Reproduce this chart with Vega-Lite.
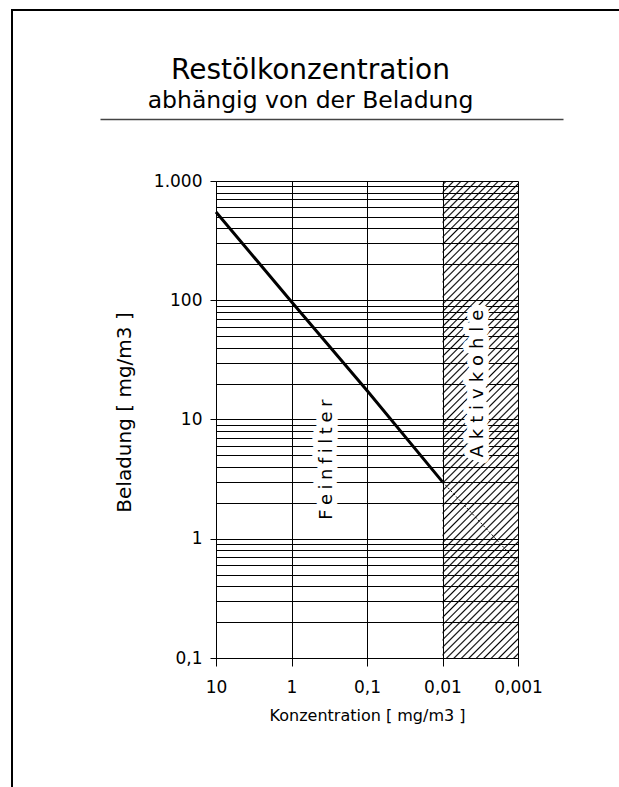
{
  "$schema": "https://vega.github.io/schema/vega-lite/v6.json",
  "usermeta": {"embedOptions": {"actions": false}},
  "autosize": "none",
  "padding": {"left": 12, "top": 10, "right": -10, "bottom": -10},
  "width": 617,
  "height": 787,
  "background": "white",
  "title": {
    "text": "Restölkonzentration",
    "subtitle": "abhängig von der Beladung",
    "anchor": "middle",
    "frame": "group",
    "offset": -102,
    "dx": -10,
    "font": "DejaVu Sans",
    "fontSize": 28,
    "fontWeight": "normal",
    "color": "black",
    "subtitleFont": "DejaVu Sans",
    "subtitleFontSize": 23.5,
    "subtitleColor": "black",
    "subtitlePadding": 4
  },
  "datasets": {
    "kurve": [
      {"konz": 10, "beladung": 550},
      {"konz": 1, "beladung": 97},
      {"konz": 0.1, "beladung": 17.5},
      {"konz": 0.01, "beladung": 3}
    ],
    "kurve_aktivkohle": [
      {"konz": 0.01, "beladung": 3},
      {"konz": 0.001, "beladung": 0.63}
    ],
    "bereiche": [
      {"bereich": "Aktivkohle", "konz": 0.01, "konz_bis": 0.001, "beladung": 0.1, "beladung_bis": 1000}
    ],
    "beschriftung": [
      {"bereich": "Feinfilter", "konz": 0.34, "beladung": 4.6},
      {"bereich": "Aktivkohle", "konz": 0.0034, "beladung": 20}
    ],
    "trennlinie": []
  },
  "layer": [
    {
      "encoding": {
        "x": {
          "field": "konz",
          "type": "quantitative",
          "scale": {"type": "log", "domain": [0.001, 10], "range": [506, 204]},
          "axis": null
        },
        "y": {
          "field": "beladung",
          "type": "quantitative",
          "title": "Beladung [ mg/m3 ]",
          "scale": {"type": "log", "domain": [0.1, 1000], "range": [648, 171]},
          "axis": {
            "values": [0.1, 0.2, 0.3, 0.4, 0.5, 0.6, 0.7, 0.8, 0.9, 1, 2, 3, 4, 5, 6, 7, 8, 9, 10, 20, 30, 40, 50, 60, 70, 80, 90, 100, 200, 300, 400, 500, 600, 700, 800, 900, 1000],
            "offset": -204,
            "grid": true,
            "tickSize": 6,
            "tickOpacity": {"condition": {"test": "datum.value == 0.1 || datum.value == 1 || datum.value == 10 || datum.value == 100 || datum.value == 1000", "value": 1}, "value": 0},
            "labelOverlap": false,
            "labelExpr": "datum.value == 1000 ? '1.000' : datum.value == 100 ? '100' : datum.value == 10 ? '10' : datum.value == 1 ? '1' : datum.value == 0.1 ? '0,1' : ''",
            "labelFontSize": 17,
            "labelPadding": 8,
            "titleFontSize": 20,
            "titlePadding": 19,
            "titleY": 402
          }
        }
      },
      "layer": [
        {
          "data": {"name": "bereiche"},
          "mark": {
            "type": "rect",
            "fill": {
              "gradient": "linear",
              "x1": 0, "y1": 0, "x2": 0.17885, "y2": 1.12997,
              "stops": [
                {"offset": 0.0042, "color": "rgba(0,0,0,0)"}, {"offset": 0.007, "color": "#000"}, {"offset": 0.0098, "color": "rgba(0,0,0,0)"},
                {"offset": 0.0177, "color": "rgba(0,0,0,0)"}, {"offset": 0.0205, "color": "#000"}, {"offset": 0.0233, "color": "rgba(0,0,0,0)"},
                {"offset": 0.0312, "color": "rgba(0,0,0,0)"}, {"offset": 0.034, "color": "#000"}, {"offset": 0.0368, "color": "rgba(0,0,0,0)"},
                {"offset": 0.0447, "color": "rgba(0,0,0,0)"}, {"offset": 0.0475, "color": "#000"}, {"offset": 0.0503, "color": "rgba(0,0,0,0)"},
                {"offset": 0.0582, "color": "rgba(0,0,0,0)"}, {"offset": 0.061, "color": "#000"}, {"offset": 0.0638, "color": "rgba(0,0,0,0)"},
                {"offset": 0.0717, "color": "rgba(0,0,0,0)"}, {"offset": 0.0745, "color": "#000"}, {"offset": 0.0773, "color": "rgba(0,0,0,0)"},
                {"offset": 0.0852, "color": "rgba(0,0,0,0)"}, {"offset": 0.088, "color": "#000"}, {"offset": 0.0908, "color": "rgba(0,0,0,0)"},
                {"offset": 0.0987, "color": "rgba(0,0,0,0)"}, {"offset": 0.1015, "color": "#000"}, {"offset": 0.1043, "color": "rgba(0,0,0,0)"},
                {"offset": 0.1122, "color": "rgba(0,0,0,0)"}, {"offset": 0.115, "color": "#000"}, {"offset": 0.1178, "color": "rgba(0,0,0,0)"},
                {"offset": 0.1257, "color": "rgba(0,0,0,0)"}, {"offset": 0.1285, "color": "#000"}, {"offset": 0.1313, "color": "rgba(0,0,0,0)"},
                {"offset": 0.1392, "color": "rgba(0,0,0,0)"}, {"offset": 0.142, "color": "#000"}, {"offset": 0.1448, "color": "rgba(0,0,0,0)"},
                {"offset": 0.1527, "color": "rgba(0,0,0,0)"}, {"offset": 0.1555, "color": "#000"}, {"offset": 0.1583, "color": "rgba(0,0,0,0)"},
                {"offset": 0.1662, "color": "rgba(0,0,0,0)"}, {"offset": 0.169, "color": "#000"}, {"offset": 0.1718, "color": "rgba(0,0,0,0)"},
                {"offset": 0.1797, "color": "rgba(0,0,0,0)"}, {"offset": 0.1825, "color": "#000"}, {"offset": 0.1853, "color": "rgba(0,0,0,0)"},
                {"offset": 0.1932, "color": "rgba(0,0,0,0)"}, {"offset": 0.196, "color": "#000"}, {"offset": 0.1988, "color": "rgba(0,0,0,0)"},
                {"offset": 0.2067, "color": "rgba(0,0,0,0)"}, {"offset": 0.2095, "color": "#000"}, {"offset": 0.2123, "color": "rgba(0,0,0,0)"},
                {"offset": 0.2202, "color": "rgba(0,0,0,0)"}, {"offset": 0.223, "color": "#000"}, {"offset": 0.2258, "color": "rgba(0,0,0,0)"},
                {"offset": 0.2337, "color": "rgba(0,0,0,0)"}, {"offset": 0.2365, "color": "#000"}, {"offset": 0.2393, "color": "rgba(0,0,0,0)"},
                {"offset": 0.2472, "color": "rgba(0,0,0,0)"}, {"offset": 0.25, "color": "#000"}, {"offset": 0.2528, "color": "rgba(0,0,0,0)"},
                {"offset": 0.2607, "color": "rgba(0,0,0,0)"}, {"offset": 0.2635, "color": "#000"}, {"offset": 0.2663, "color": "rgba(0,0,0,0)"},
                {"offset": 0.2742, "color": "rgba(0,0,0,0)"}, {"offset": 0.277, "color": "#000"}, {"offset": 0.2798, "color": "rgba(0,0,0,0)"},
                {"offset": 0.2877, "color": "rgba(0,0,0,0)"}, {"offset": 0.2905, "color": "#000"}, {"offset": 0.2933, "color": "rgba(0,0,0,0)"},
                {"offset": 0.3012, "color": "rgba(0,0,0,0)"}, {"offset": 0.304, "color": "#000"}, {"offset": 0.3068, "color": "rgba(0,0,0,0)"},
                {"offset": 0.3147, "color": "rgba(0,0,0,0)"}, {"offset": 0.3175, "color": "#000"}, {"offset": 0.3203, "color": "rgba(0,0,0,0)"},
                {"offset": 0.3282, "color": "rgba(0,0,0,0)"}, {"offset": 0.331, "color": "#000"}, {"offset": 0.3338, "color": "rgba(0,0,0,0)"},
                {"offset": 0.3417, "color": "rgba(0,0,0,0)"}, {"offset": 0.3445, "color": "#000"}, {"offset": 0.3473, "color": "rgba(0,0,0,0)"},
                {"offset": 0.3552, "color": "rgba(0,0,0,0)"}, {"offset": 0.358, "color": "#000"}, {"offset": 0.3608, "color": "rgba(0,0,0,0)"},
                {"offset": 0.3687, "color": "rgba(0,0,0,0)"}, {"offset": 0.3715, "color": "#000"}, {"offset": 0.3743, "color": "rgba(0,0,0,0)"},
                {"offset": 0.3822, "color": "rgba(0,0,0,0)"}, {"offset": 0.385, "color": "#000"}, {"offset": 0.3878, "color": "rgba(0,0,0,0)"},
                {"offset": 0.3957, "color": "rgba(0,0,0,0)"}, {"offset": 0.3985, "color": "#000"}, {"offset": 0.4013, "color": "rgba(0,0,0,0)"},
                {"offset": 0.4092, "color": "rgba(0,0,0,0)"}, {"offset": 0.412, "color": "#000"}, {"offset": 0.4148, "color": "rgba(0,0,0,0)"},
                {"offset": 0.4227, "color": "rgba(0,0,0,0)"}, {"offset": 0.4255, "color": "#000"}, {"offset": 0.4283, "color": "rgba(0,0,0,0)"},
                {"offset": 0.4362, "color": "rgba(0,0,0,0)"}, {"offset": 0.439, "color": "#000"}, {"offset": 0.4418, "color": "rgba(0,0,0,0)"},
                {"offset": 0.4497, "color": "rgba(0,0,0,0)"}, {"offset": 0.4525, "color": "#000"}, {"offset": 0.4553, "color": "rgba(0,0,0,0)"},
                {"offset": 0.4632, "color": "rgba(0,0,0,0)"}, {"offset": 0.466, "color": "#000"}, {"offset": 0.4688, "color": "rgba(0,0,0,0)"},
                {"offset": 0.4767, "color": "rgba(0,0,0,0)"}, {"offset": 0.4795, "color": "#000"}, {"offset": 0.4823, "color": "rgba(0,0,0,0)"},
                {"offset": 0.4902, "color": "rgba(0,0,0,0)"}, {"offset": 0.493, "color": "#000"}, {"offset": 0.4958, "color": "rgba(0,0,0,0)"},
                {"offset": 0.5037, "color": "rgba(0,0,0,0)"}, {"offset": 0.5065, "color": "#000"}, {"offset": 0.5093, "color": "rgba(0,0,0,0)"},
                {"offset": 0.5172, "color": "rgba(0,0,0,0)"}, {"offset": 0.52, "color": "#000"}, {"offset": 0.5228, "color": "rgba(0,0,0,0)"},
                {"offset": 0.5307, "color": "rgba(0,0,0,0)"}, {"offset": 0.5335, "color": "#000"}, {"offset": 0.5363, "color": "rgba(0,0,0,0)"},
                {"offset": 0.5442, "color": "rgba(0,0,0,0)"}, {"offset": 0.547, "color": "#000"}, {"offset": 0.5498, "color": "rgba(0,0,0,0)"},
                {"offset": 0.5577, "color": "rgba(0,0,0,0)"}, {"offset": 0.5605, "color": "#000"}, {"offset": 0.5633, "color": "rgba(0,0,0,0)"},
                {"offset": 0.5712, "color": "rgba(0,0,0,0)"}, {"offset": 0.574, "color": "#000"}, {"offset": 0.5768, "color": "rgba(0,0,0,0)"},
                {"offset": 0.5847, "color": "rgba(0,0,0,0)"}, {"offset": 0.5875, "color": "#000"}, {"offset": 0.5903, "color": "rgba(0,0,0,0)"},
                {"offset": 0.5982, "color": "rgba(0,0,0,0)"}, {"offset": 0.601, "color": "#000"}, {"offset": 0.6038, "color": "rgba(0,0,0,0)"},
                {"offset": 0.6117, "color": "rgba(0,0,0,0)"}, {"offset": 0.6145, "color": "#000"}, {"offset": 0.6173, "color": "rgba(0,0,0,0)"},
                {"offset": 0.6252, "color": "rgba(0,0,0,0)"}, {"offset": 0.628, "color": "#000"}, {"offset": 0.6308, "color": "rgba(0,0,0,0)"},
                {"offset": 0.6387, "color": "rgba(0,0,0,0)"}, {"offset": 0.6415, "color": "#000"}, {"offset": 0.6443, "color": "rgba(0,0,0,0)"},
                {"offset": 0.6522, "color": "rgba(0,0,0,0)"}, {"offset": 0.655, "color": "#000"}, {"offset": 0.6578, "color": "rgba(0,0,0,0)"},
                {"offset": 0.6657, "color": "rgba(0,0,0,0)"}, {"offset": 0.6685, "color": "#000"}, {"offset": 0.6713, "color": "rgba(0,0,0,0)"},
                {"offset": 0.6792, "color": "rgba(0,0,0,0)"}, {"offset": 0.682, "color": "#000"}, {"offset": 0.6848, "color": "rgba(0,0,0,0)"},
                {"offset": 0.6927, "color": "rgba(0,0,0,0)"}, {"offset": 0.6955, "color": "#000"}, {"offset": 0.6983, "color": "rgba(0,0,0,0)"},
                {"offset": 0.7062, "color": "rgba(0,0,0,0)"}, {"offset": 0.709, "color": "#000"}, {"offset": 0.7118, "color": "rgba(0,0,0,0)"},
                {"offset": 0.7197, "color": "rgba(0,0,0,0)"}, {"offset": 0.7225, "color": "#000"}, {"offset": 0.7253, "color": "rgba(0,0,0,0)"},
                {"offset": 0.7332, "color": "rgba(0,0,0,0)"}, {"offset": 0.736, "color": "#000"}, {"offset": 0.7388, "color": "rgba(0,0,0,0)"},
                {"offset": 0.7467, "color": "rgba(0,0,0,0)"}, {"offset": 0.7495, "color": "#000"}, {"offset": 0.7523, "color": "rgba(0,0,0,0)"},
                {"offset": 0.7602, "color": "rgba(0,0,0,0)"}, {"offset": 0.763, "color": "#000"}, {"offset": 0.7658, "color": "rgba(0,0,0,0)"},
                {"offset": 0.7737, "color": "rgba(0,0,0,0)"}, {"offset": 0.7765, "color": "#000"}, {"offset": 0.7793, "color": "rgba(0,0,0,0)"},
                {"offset": 0.7872, "color": "rgba(0,0,0,0)"}, {"offset": 0.79, "color": "#000"}, {"offset": 0.7928, "color": "rgba(0,0,0,0)"},
                {"offset": 0.8007, "color": "rgba(0,0,0,0)"}, {"offset": 0.8035, "color": "#000"}, {"offset": 0.8063, "color": "rgba(0,0,0,0)"},
                {"offset": 0.8142, "color": "rgba(0,0,0,0)"}, {"offset": 0.817, "color": "#000"}, {"offset": 0.8198, "color": "rgba(0,0,0,0)"},
                {"offset": 0.8277, "color": "rgba(0,0,0,0)"}, {"offset": 0.8305, "color": "#000"}, {"offset": 0.8333, "color": "rgba(0,0,0,0)"},
                {"offset": 0.8412, "color": "rgba(0,0,0,0)"}, {"offset": 0.844, "color": "#000"}, {"offset": 0.8468, "color": "rgba(0,0,0,0)"},
                {"offset": 0.8547, "color": "rgba(0,0,0,0)"}, {"offset": 0.8575, "color": "#000"}, {"offset": 0.8603, "color": "rgba(0,0,0,0)"},
                {"offset": 0.8682, "color": "rgba(0,0,0,0)"}, {"offset": 0.871, "color": "#000"}, {"offset": 0.8738, "color": "rgba(0,0,0,0)"},
                {"offset": 0.8817, "color": "rgba(0,0,0,0)"}, {"offset": 0.8845, "color": "#000"}, {"offset": 0.8873, "color": "rgba(0,0,0,0)"},
                {"offset": 0.8952, "color": "rgba(0,0,0,0)"}, {"offset": 0.898, "color": "#000"}, {"offset": 0.9008, "color": "rgba(0,0,0,0)"},
                {"offset": 0.9087, "color": "rgba(0,0,0,0)"}, {"offset": 0.9115, "color": "#000"}, {"offset": 0.9143, "color": "rgba(0,0,0,0)"},
                {"offset": 0.9222, "color": "rgba(0,0,0,0)"}, {"offset": 0.925, "color": "#000"}, {"offset": 0.9278, "color": "rgba(0,0,0,0)"},
                {"offset": 0.9357, "color": "rgba(0,0,0,0)"}, {"offset": 0.9385, "color": "#000"}, {"offset": 0.9413, "color": "rgba(0,0,0,0)"},
                {"offset": 0.9492, "color": "rgba(0,0,0,0)"}, {"offset": 0.952, "color": "#000"}, {"offset": 0.9548, "color": "rgba(0,0,0,0)"},
                {"offset": 0.9627, "color": "rgba(0,0,0,0)"}, {"offset": 0.9655, "color": "#000"}, {"offset": 0.9683, "color": "rgba(0,0,0,0)"},
                {"offset": 0.9762, "color": "rgba(0,0,0,0)"}, {"offset": 0.979, "color": "#000"}, {"offset": 0.9818, "color": "rgba(0,0,0,0)"},
                {"offset": 0.9897, "color": "rgba(0,0,0,0)"}, {"offset": 0.9925, "color": "#000"}, {"offset": 0.9953, "color": "rgba(0,0,0,0)"}
              ]
            }
          },
          "encoding": {
            "x": {
              "field": "konz",
              "type": "quantitative",
              "scale": {"type": "log", "domain": [0.001, 10], "range": [506, 204]},
              "axis": {
                "orient": "top",
                "offset": -171,
                "values": [0.001, 0.01, 0.1, 1, 10],
                "grid": true,
                "domain": false,
                "ticks": false,
                "labels": false,
                "title": null
              }
            },
            "x2": {"field": "konz_bis"},
            "y2": {"field": "beladung_bis"}
          }
        },
        {
          "data": {"name": "kurve"},
          "mark": {"type": "line", "color": "black", "strokeWidth": 3},
          "encoding": {
            "x": {
              "field": "konz",
              "type": "quantitative",
              "title": "Konzentration [ mg/m3 ]",
              "scale": {"type": "log", "domain": [0.001, 10], "range": [506, 204]},
              "axis": {
                "orient": "bottom",
                "values": [0.001, 0.01, 0.1, 1, 10],
                "offset": -139,
                "grid": false,
                "tickSize": 8,
                "labelFlush": false,
                "labelOverlap": false,
                "labelExpr": "datum.value == 10 ? '10' : datum.value == 1 ? '1' : datum.value == 0.1 ? '0,1' : datum.value == 0.01 ? '0,01' : '0,001'",
                "labelFontSize": 17,
                "labelPadding": 13,
                "titleFontSize": 16,
                "titlePadding": 12
              }
            }
          }
        },
        {
          "data": {"name": "kurve_aktivkohle"},
          "mark": {"type": "line", "color": "black", "strokeWidth": 1, "strokeDash": [2, 2]}
        },
        {
          "data": {"name": "beschriftung"},
          "transform": [{"filter": "datum.bereich == 'Feinfilter'"}],
          "mark": {"type": "text", "text": "F\u2005e\u2005i\u2005n\u2005f\u2005i\u2005l\u2005t\u2005e\u2005r", "angle": 270, "font": "DejaVu Sans", "fontSize": 18, "fill": "white", "stroke": "white", "strokeWidth": 12, "strokeJoin": "round"}
        },
        {
          "data": {"name": "beschriftung"},
          "transform": [{"filter": "datum.bereich == 'Feinfilter'"}],
          "mark": {"type": "text", "text": "F\u2005e\u2005i\u2005n\u2005f\u2005i\u2005l\u2005t\u2005e\u2005r", "angle": 270, "font": "DejaVu Sans", "fontSize": 18, "fill": "black"}
        },
        {
          "data": {"name": "beschriftung"},
          "transform": [{"filter": "datum.bereich == 'Aktivkohle'"}],
          "mark": {"type": "text", "text": "A\u2004k\u2004t\u2004i\u2004v\u2004k\u2004o\u2004h\u2004l\u2004e", "angle": 270, "font": "DejaVu Sans", "fontSize": 18, "fill": "white", "stroke": "white", "strokeWidth": 12, "strokeJoin": "round"}
        },
        {
          "data": {"name": "beschriftung"},
          "transform": [{"filter": "datum.bereich == 'Aktivkohle'"}],
          "mark": {"type": "text", "text": "A\u2004k\u2004t\u2004i\u2004v\u2004k\u2004o\u2004h\u2004l\u2004e", "angle": 270, "font": "DejaVu Sans", "fontSize": 18, "fill": "black"}
        }
      ],
      "resolve": {"axis": {"x": "independent"}}
    },
    {
      "data": {"name": "trennlinie"},
      "mark": {"type": "rule"},
      "encoding": {
        "x": {
          "field": "pos",
          "type": "quantitative",
          "scale": {"domain": [0, 1], "range": [88, 551]},
          "axis": {"orient": "top", "offset": -109, "domainColor": "#444", "domainWidth": 1.5, "ticks": false, "labels": false, "grid": false, "title": null}
        }
      }
    }
  ],
  "resolve": {"scale": {"x": "independent"}, "axis": {"x": "independent"}},
  "config": {
    "font": "DejaVu Sans",
    "view": {"stroke": "black", "strokeWidth": 2, "strokeDash": [607, 1414, 787]},
    "axis": {
      "labelFont": "DejaVu Sans",
      "titleFont": "DejaVu Sans",
      "labelColor": "black",
      "titleColor": "black",
      "titleFontWeight": "normal",
      "domainColor": "black",
      "domainWidth": 1,
      "tickColor": "black",
      "tickWidth": 1,
      "gridColor": "black",
      "gridOpacity": 1,
      "gridWidth": 1
    }
  }
}
